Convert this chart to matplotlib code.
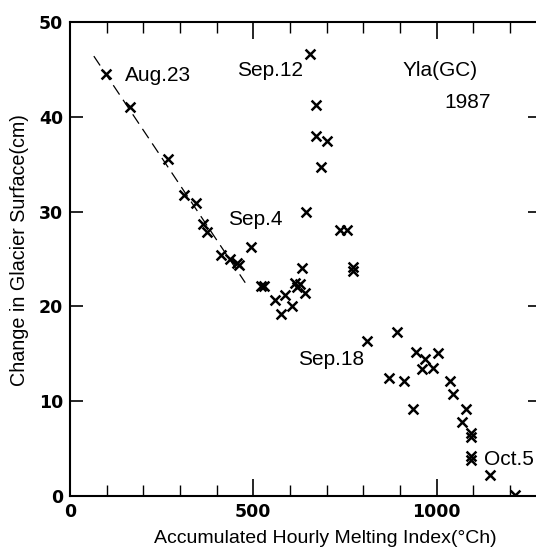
import matplotlib.pyplot as plt
from matplotlib.ticker import MultipleLocator

# accumulated hourly melting index (degC h) and surface change (cm)
melt_index = [98, 164, 267, 312, 343, 362, 373, 412, 436, 455, 462, 493,
              520, 528, 559, 575, 586, 605, 614, 620, 627, 632, 641, 645,
              654, 670, 670, 686, 700, 736, 755, 773, 773, 809, 871, 891,
              911, 936, 945, 959, 968, 991, 1004, 1036, 1044, 1068, 1079,
              1093, 1093, 1095, 1095, 1145, 1213]
surface_change = [44.5, 41.0, 35.5, 31.7, 30.9, 28.7, 27.9, 25.4, 25.0, 24.6, 24.4, 26.3,
                  22.2, 22.2, 20.7, 19.2, 21.2, 20.0, 22.5, 22.0, 22.4, 24.1, 21.4, 30.0,
                  46.6, 41.2, 38.0, 34.7, 37.4, 28.1, 28.1, 24.2, 23.7, 16.4, 12.4, 17.3,
                  12.1, 9.2, 15.2, 13.4, 14.4, 13.5, 15.1, 12.1, 10.8, 7.8, 9.2,
                  6.6, 6.2, 4.2, 3.8, 2.2, 0.1]

# fitted line for the early period
fit_x = [65, 478]
fit_y = [46.4, 22.5]

# date annotations
ann_text = ['Aug.23', 'Sep.12', 'Sep.4', 'Sep.18', 'Oct.5', 'Yla(GC)', '1987']
ann_x = [150, 455, 431, 622, 1129, 908, 1020]
ann_y = [44.4, 44.9, 29.2, 14.4, 3.9, 44.9, 41.5]

fig = plt.figure(figsize=(5.36, 5.49), dpi=100)
ax = fig.add_axes([70 / 536, 53 / 549, 470 / 536, 474 / 549])

ax.plot(fit_x, fit_y, color='black', lw=0.9, dashes=(9, 5))
ax.scatter(melt_index, surface_change, marker='x', s=50, color='black', linewidths=1.8, zorder=3)

for t, x, y in zip(ann_text, ann_x, ann_y):
    ax.text(x, y, t, fontsize=15, family='Liberation Sans', ha='left', va='center')

ax.set_xlim(0, 1282)
ax.set_ylim(0, 50)
ax.xaxis.set_major_locator(MultipleLocator(500))
ax.xaxis.set_minor_locator(MultipleLocator(100))
ax.yaxis.set_major_locator(MultipleLocator(10))
ax.tick_params(axis='both', which='major', direction='in', length=12, width=1.2,
               top=True, right=True, labelsize=12.5, pad=5)
ax.tick_params(axis='x', which='minor', direction='in', length=8, width=1.0, top=True)
ax.tick_params(axis='y', which='major', length=9)
for lab in ax.get_xticklabels() + ax.get_yticklabels():
    lab.set_fontweight('bold')
for sp in ax.spines.values():
    sp.set_linewidth(1.5)

ax.set_xlabel('Accumulated Hourly Melting Index(\u00b0Ch)', fontsize=14, family='Liberation Sans')
ax.set_ylabel('Change in Glacier Surface(cm)', fontsize=14.2, family='Liberation Sans')
ax.xaxis.set_label_coords(0.543, -0.072)
ax.yaxis.set_label_coords(-0.088, 0.519)

fig.savefig('out.png', dpi=100)
